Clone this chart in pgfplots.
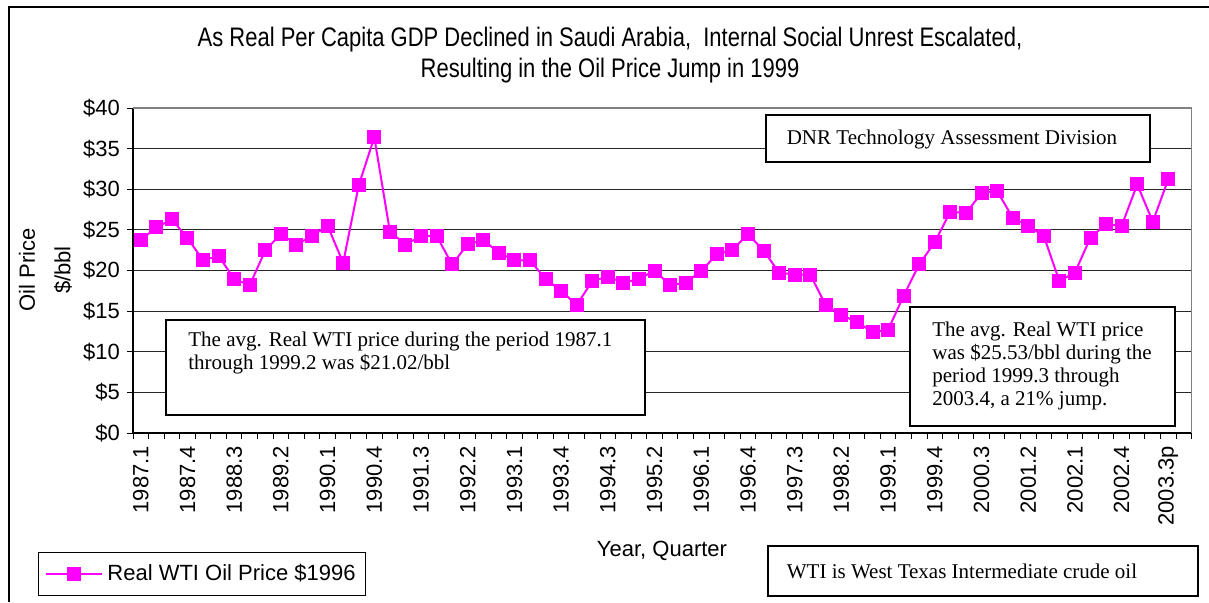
\documentclass[border=0pt]{standalone}
\usepackage{pgfplots}
\pgfplotsset{compat=1.18}
\usepackage{pgfplotstable}
\usepackage{fontspec}
\setmainfont{Liberation Sans}
\newfontfamily\seriffont{Liberation Serif}
\newfontfamily\narrowfont[FakeStretch=0.82]{Liberation Sans}
\definecolor{mag}{RGB}{255,0,255}

\pgfplotstableread{
idx price
0 23.75
1 25.3
2 26.3
3 24.0
4 21.25
5 21.8
6 18.95
7 18.2
8 22.5
9 24.5
10 23.2
11 24.25
12 25.5
13 20.95
14 30.5
15 36.4
16 24.8
17 23.2
18 24.25
19 24.25
20 20.75
21 23.25
22 23.75
23 22.2
24 21.25
25 21.25
26 18.95
27 17.5
28 15.75
29 18.7
30 19.25
31 18.5
32 18.95
33 20.0
34 18.2
35 18.5
36 19.95
37 22.0
38 22.5
39 24.5
40 22.45
41 19.75
42 19.5
43 19.5
44 15.7
45 14.5
46 13.7
47 12.4
48 12.7
49 16.9
50 20.75
51 23.5
52 27.25
53 27.05
54 29.55
55 29.8
56 26.5
57 25.5
58 24.25
59 18.7
60 19.75
61 24.05
62 25.7
63 25.5
64 30.6
65 26.0
66 31.25
}\wti

\begin{document}
\begin{tikzpicture}
\begin{scope}[x=0.5pt,y=-0.5pt]
\useasboundingbox (0,0) rectangle (1209,602);
\draw[black,line width=0.6pt] (9,602) -- (9,7) -- (1209,7);
\node[font=\narrowfont\fontsize{13.4}{16}\selectfont] at (610,40) {As Real Per Capita GDP Declined in Saudi Arabia,\ \ Internal Social Unrest Escalated,};
\node[font=\narrowfont\fontsize{13.4}{16}\selectfont] at (610,71) {Resulting in the Oil Price Jump in 1999};
\node[rotate=90,font=\fontsize{11}{13}\selectfont] at (27,270) {Oil Price};
\node[rotate=90,font=\fontsize{11}{13}\selectfont] at (63,270) {\$/bbl};
\node[font=\fontsize{11}{13}\selectfont] at (662,551) {Year, Quarter};
\end{scope}

\begin{axis}[
  at={(66.5pt,-216.5pt)}, anchor=south west,
  scale only axis, width=529.35pt, height=162.5pt,
  xmin=-0.5, xmax=67.5, ymin=0, ymax=40,
  axis x line*=bottom, axis y line*=left,
  axis line style={black, line width=0.6pt, -},
  xtick={0,3,...,66},
  xticklabels={1987.1,1987.4,1988.3,1989.2,1990.1,1990.4,1991.3,1992.2,1993.1,1993.4,1994.3,1995.2,1996.1,1996.4,1997.3,1998.2,1999.1,1999.4,2000.3,2001.2,2002.1,2002.4,2003.3p},
  minor xtick={-0.5,0.5,...,67.5},
  major x tick style={draw=none},
  minor x tick style={black, line width=0.5pt},
  minor tick length=3pt,
  tick align=outside,
  xticklabel style={rotate=90, anchor=east, font=\fontsize{11}{13}\selectfont, yshift=0pt},
  ytick={0,5,...,40},
  yticklabel={\$\pgfmathprintnumber{\tick}},
  yticklabel style={font=\fontsize{11}{13}\selectfont},
  y tick style={black, line width=0.5pt},
  major tick length=3pt,
  /pgf/number format/assume math mode=true,
  ymajorgrids, grid style={black!85, line width=0.5pt},
  legend style={at={(-0.0897,-0.366)}, anchor=north west, draw=black, line width=0.5pt,
    font=\fontsize{11}{13}\selectfont, inner xsep=3pt, inner ysep=4pt, cells={anchor=west}},
  legend image code/.code={\draw[mark repeat=2,mark phase=2] plot coordinates {(0cm,0cm) (0.5cm,0cm) (1cm,0cm)};},
  clip=false,
]
\draw[gray, line width=0.7pt] (rel axis cs:0,1) -- (rel axis cs:1,1) -- (rel axis cs:1,0);
\addplot[mag, line width=1pt, mark=square*, mark size=3pt, mark options={solid, fill=mag, draw=mag}] table[x=idx, y=price] {\wti};
\addlegendentry{Real WTI Oil Price \$1996}
\end{axis}

\begin{scope}[x=0.5pt,y=-0.5pt]
\draw[black, line width=1pt, fill=white] (766,115) rectangle (1150,162);
\node[font=\seriffont\fontsize{10.5}{12}\selectfont] at (952,139) {DNR Technology Assessment Division};
\draw[black, line width=1pt, fill=white] (166,320) rectangle (645,415);
\node[font=\seriffont\fontsize{10.5}{11.5}\selectfont, anchor=north west, align=left, inner sep=0pt] at (188,332) {The avg. Real WTI price during the period 1987.1\\through 1999.2 was \$21.02/bbl};
\draw[black, line width=1pt, fill=white] (910,307) rectangle (1175,426);
\node[font=\seriffont\fontsize{10.5}{11.5}\selectfont, anchor=north west, align=left, inner sep=0pt] at (932,322) {The avg. Real WTI price\\was \$25.53/bbl during the\\period 1999.3 through\\2003.4, a 21\% jump.};
\draw[black, line width=1pt, fill=white] (768,546) rectangle (1198,596);
\node[font=\seriffont\fontsize{10.5}{12}\selectfont] at (962,571) {WTI is West Texas Intermediate crude oil};
\end{scope}
\end{tikzpicture}
\end{document}
